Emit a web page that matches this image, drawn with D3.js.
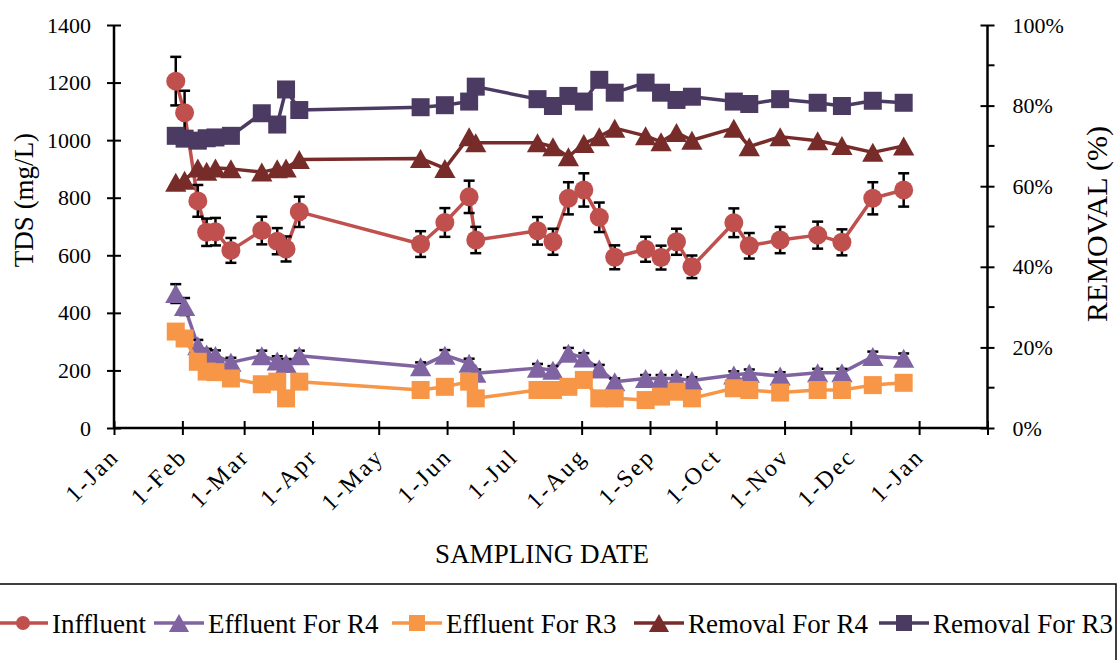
<!DOCTYPE html>
<html>
<head>
<meta charset="utf-8">
<script src="https://cdn.jsdelivr.net/npm/d3@7"></script>
<style>
  html, body { margin: 0; padding: 0; background: #fff; }
  svg { display: block; }
  text { font-family: "Liberation Serif", "Times New Roman", serif; fill: #000; }
</style>
</head>
<body>
<svg id="chart" width="1118" height="660"></svg>
<script>
// Sampling dates (one year of monitoring)
const sampleDates = [
  "2019-01-29","2019-02-02","2019-02-08","2019-02-12","2019-02-16","2019-02-23",
  "2019-03-09","2019-03-16","2019-03-20","2019-03-26","2019-05-20","2019-05-31",
  "2019-06-11","2019-06-14","2019-07-12","2019-07-19","2019-07-26","2019-08-02",
  "2019-08-09","2019-08-16","2019-08-30","2019-09-06","2019-09-13","2019-09-20",
  "2019-10-09","2019-10-16","2019-10-30","2019-11-16","2019-11-27","2019-12-11",
  "2019-12-25"
];

// TDS concentrations (mg/L), left axis
const influent = [1205,1095,789,680,682,617,686,649,622,751,639,714,803,653,685,647,798,827,732,593,621,592,647,560,713,633,653,670,645,798,827];
const effluentR4 = [467,422,286,257,252,228,251,233,224,251,213,253,225,190,208,201,260,243,205,161,172,172,172,165,184,190,181,192,192,248,242];
const effluentR3 = [335,311,230,196,194,172,152,161,103,161,132,143,161,103,132,132,143,167,103,103,97,109,126,103,138,132,123,132,132,149,157];

// TDS removal efficiency (%), right axis
const removalR4 = [61.0,61.5,64.5,63.7,64.5,64.3,63.5,64.3,64.5,66.6,66.9,64.4,72.3,70.8,70.8,69.8,67.3,70.6,72.3,74.4,72.5,71.0,73.3,71.4,74.4,69.8,72.3,71.3,70.1,68.4,70.0];
const removalR3 = [72.5,71.8,71.3,71.9,72.1,72.5,78.1,75.3,84.0,78.9,79.6,80.1,81.0,84.7,81.6,79.9,82.4,81.0,86.4,83.2,85.7,83.2,81.4,82.2,81.0,80.4,81.6,80.7,79.9,81.2,80.7];

// Error bars: percentage of value
const errorPct = 0.07;

// Axis ticks
const leftTicks = [0,200,400,600,800,1000,1200,1400];
const rightTicks = [0,20,40,60,80,100];
const rightMinorTicks = [10,30,50,70,90];
const xTickDates = ["2019-01-01","2019-02-01","2019-03-01","2019-04-01","2019-05-01","2019-06-01","2019-07-01",
  "2019-08-01","2019-09-01","2019-10-01","2019-11-01","2019-12-01","2020-01-01","2020-02-01"];
const xTickLabels = ["1-Jan","1-Feb","1-Mar","1-Apr","1-May","1-Jun","1-Jul","1-Aug","1-Sep","1-Oct","1-Nov","1-Dec","1-Jan",""];

const seriesNames = ["Inffluent","Effluent For R4","Effluent For R3","Removal For R4","Removal For R3"];

const svg = d3.select("#chart");
const parse = d3.utcParse("%Y-%m-%d");
const dates = sampleDates.map(parse);

const plot = { left: 114, right: 987.5, top: 25, bottom: 428 };

const x = d3.scaleUtc()
  .domain([parse("2019-01-01"), parse("2020-02-01")])
  .range([plot.left, plot.right]);
const yL = d3.scaleLinear().domain([0, 1400]).range([plot.bottom, plot.top]);
const yR = d3.scaleLinear().domain([0, 100]).range([plot.bottom, plot.top]);

const series = [
  { name: seriesNames[0], values: influent,   y: yL, color: "#C0504D", marker: "circle",   err: true },
  { name: seriesNames[1], values: effluentR4, y: yL, color: "#8064A2", marker: "triangle", err: true },
  { name: seriesNames[2], values: effluentR3, y: yL, color: "#F79646", marker: "square",   err: false },
  { name: seriesNames[3], values: removalR4,  y: yR, color: "#772C2A", marker: "triangle", err: false },
  { name: seriesNames[4], values: removalR3,  y: yR, color: "#4B3A62", marker: "square",   err: false }
];

// Marker shapes centred on their bounding box
function markerPath(type, s) {
  if (type === "circle") {
    const r = s / 2;
    return `M${-r},0a${r},${r} 0 1,0 ${2*r},0a${r},${r} 0 1,0 ${-2*r},0Z`;
  }
  if (type === "square") {
    const h = s / 2;
    return `M${-h},${-h}H${h}V${h}H${-h}Z`;
  }
  const w = s * 0.56, hh = s * 0.5;
  return `M0,${-hh}L${w},${hh}L${-w},${hh}Z`;
}

// ---- Axes ----
const axisStroke = 2.5;

// Left axis
const gL = svg.append("g").attr("transform", `translate(${plot.left},0)`)
  .call(d3.axisLeft(yL).tickValues(leftTicks).tickFormat(d3.format("d")).tickSize(7).tickPadding(16));
gL.select(".domain").attr("stroke", "#000").attr("stroke-width", axisStroke).attr("d", `M0,${plot.top}V${plot.bottom}`);
gL.selectAll(".tick line").attr("stroke", "#000").attr("stroke-width", 2).attr("x1", 7).attr("x2", -7);
gL.selectAll(".tick text").attr("font-size", 22).style("font-family", "Liberation Serif, serif");

// Right axis
const gR = svg.append("g").attr("transform", `translate(${plot.right},0)`)
  .call(d3.axisRight(yR).tickValues(rightTicks).tickFormat(d => d + "%").tickSize(7).tickPadding(18));
gR.select(".domain").attr("stroke", "#000").attr("stroke-width", axisStroke).attr("d", `M0,${plot.top}V${plot.bottom}`);
gR.selectAll(".tick line").attr("stroke", "#000").attr("stroke-width", 2).attr("x1", -7).attr("x2", 7);
gR.selectAll(".tick text").attr("font-size", 22).style("font-family", "Liberation Serif, serif");
gR.selectAll(".minor").data(rightMinorTicks).enter().append("line")
  .attr("x1", 0).attr("x2", 7).attr("y1", d => yR(d)).attr("y2", d => yR(d))
  .attr("stroke", "#000").attr("stroke-width", 2);

// Bottom axis
const xTicks = xTickDates.map(parse);
const gX = svg.append("g").attr("transform", `translate(0,${plot.bottom})`)
  .call(d3.axisBottom(x).tickValues(xTicks).tickFormat((d, i) => xTickLabels[i]).tickSize(7));
gX.select(".domain").attr("stroke", "#000").attr("stroke-width", axisStroke).attr("d", `M${plot.left},0H${plot.right}`);
gX.selectAll(".tick line").attr("stroke", "#000").attr("stroke-width", 2).attr("y1", -7).attr("y2", 7);
gX.selectAll(".tick text")
  .attr("font-size", 24)
  .style("font-family", "Liberation Serif, serif")
  .attr("text-anchor", "end")
  .attr("letter-spacing", 2.5)
  .attr("dy", 0)
  .attr("y", 0)
  .attr("transform", "translate(6,30) rotate(-45)");

// Axis titles
svg.append("text")
  .attr("transform", "translate(33,200) rotate(-90)")
  .attr("text-anchor", "middle").attr("font-size", 27)
  .text("TDS (mg/L)");
svg.append("text")
  .attr("transform", "translate(1107,224) rotate(-90)")
  .attr("text-anchor", "middle").attr("font-size", 30)
  .text("REMOVAL (%)");
svg.append("text")
  .attr("x", 542).attr("y", 563)
  .attr("text-anchor", "middle").attr("font-size", 27)
  .text("SAMPLING DATE");

// ---- Series ----
series.forEach(s => {
  const pts = s.values.map((v, i) => ({ date: dates[i], v }));
  const g = svg.append("g");
  g.append("path")
    .datum(pts)
    .attr("fill", "none")
    .attr("stroke", s.color)
    .attr("stroke-width", 3.5)
    .attr("stroke-linejoin", "round")
    .attr("d", d3.line().x(d => x(d.date)).y(d => s.y(d.v)));

  if (s.err) {
    const eb = g.append("g").attr("stroke", "#000").attr("stroke-width", 2.5);
    pts.forEach(p => {
      const cx = x(p.date);
      const lo = s.y(p.v * (1 - errorPct)), hi = s.y(p.v * (1 + errorPct));
      eb.append("line").attr("x1", cx).attr("x2", cx).attr("y1", lo).attr("y2", hi);
      eb.append("line").attr("x1", cx - 5.5).attr("x2", cx + 5.5).attr("y1", lo).attr("y2", lo);
      eb.append("line").attr("x1", cx - 5.5).attr("x2", cx + 5.5).attr("y1", hi).attr("y2", hi);
    });
  }

  const size = s.marker === "circle" ? 19 : (s.marker === "square" ? 18 : 19);
  g.selectAll(".m").data(pts).enter().append("path")
    .attr("transform", d => `translate(${x(d.date)},${s.y(d.v)})`)
    .attr("d", markerPath(s.marker, size))
    .attr("fill", s.color);
});

// ---- Legend ----
const legend = svg.append("g");
legend.append("rect")
  .attr("x", -5).attr("y", 584).attr("width", 1121).attr("height", 120)
  .attr("fill", "none").attr("stroke", "#000").attr("stroke-width", 1.5);

const legendX = [-2, 154, 392, 634, 879];
const legendMarkerSize = { circle: 14, triangle: 18, square: 16 };
const ly = 623;
series.forEach((s, i) => {
  const lx = legendX[i];
  const item = legend.append("g");
  item.append("line").attr("x1", lx).attr("x2", lx + 50).attr("y1", ly).attr("y2", ly)
    .attr("stroke", s.color).attr("stroke-width", 3.5);
  item.append("path")
    .attr("transform", `translate(${lx + 25},${ly})`)
    .attr("d", markerPath(s.marker, legendMarkerSize[s.marker]))
    .attr("fill", s.color);
  item.append("text").attr("x", lx + 54).attr("y", ly + 10).attr("font-size", 27).text(s.name);
});
</script>
</body>
</html>
